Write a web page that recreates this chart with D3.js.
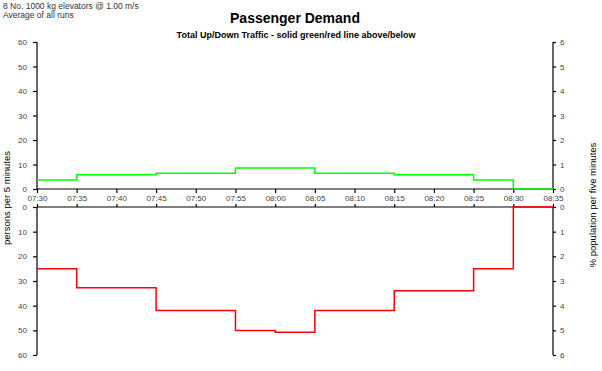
<!DOCTYPE html>
<html>
<head>
<meta charset="utf-8">
<script src="https://cdn.jsdelivr.net/npm/d3@7"></script>
<style>
  body { margin: 0; background: #fff; }
  svg { font-family: "Liberation Sans", Arial, sans-serif; }
</style>
</head>
<body>
<svg width="602" height="371"></svg>
<script>
// five-minute bins starting 07:30
const times = ["07:30","07:35","07:40","07:45","07:50","07:55","08:00","08:05","08:10","08:15","08:20","08:25","08:30","08:35"];
const upTraffic = [3.7, 5.8, 5.8, 6.4, 6.4, 8.6, 8.6, 6.4, 6.4, 5.8, 5.8, 3.7, 0];
const downTraffic = [25, 32.7, 32.7, 42, 42, 50.1, 50.8, 42, 42, 34, 34, 25, 0];
const leftTicks = [0, 10, 20, 30, 40, 50, 60];
const rightTicks = [0, 1, 2, 3, 4, 5, 6];

const svg = d3.select("svg");
const left = 37, right = 553;
const labelColor = "#444";

const x = d3.scalePoint().domain(times).range([left, right]);
const yTop = d3.scaleLinear().domain([0, 60]).range([189, 42]);
const yBot = d3.scaleLinear().domain([0, 60]).range([207, 355]);
const pTop = d3.scaleLinear().domain([0, 6]).range([189, 42]);
const pBot = d3.scaleLinear().domain([0, 6]).range([207, 355]);

// header texts
svg.append("text").attr("x", 3).attr("y", 9).attr("font-size", 8.5).attr("fill", "#333")
  .text("8 No. 1000 kg elevators @ 1.00 m/s");
svg.append("text").attr("x", 3).attr("y", 18).attr("font-size", 8.5).attr("fill", "#333")
  .text("Average of all runs");
svg.append("text").attr("x", 295).attr("y", 23).attr("text-anchor", "middle")
  .attr("font-size", 14).attr("font-weight", "bold").text("Passenger Demand");
svg.append("text").attr("x", 296).attr("y", 38).attr("text-anchor", "middle")
  .attr("font-size", 9).attr("font-weight", "bold")
  .text("Total Up/Down Traffic - solid green/red line above/below");

const styleAxis = g => {
  g.select(".domain").remove();
  g.selectAll("line").attr("stroke", "#000").attr("stroke-width", 1.2);
  g.selectAll("text").attr("fill", labelColor).attr("font-size", 8);
};

// left axes
[yTop, yBot].forEach(scale => {
  svg.append("g").attr("transform", `translate(${left},0)`)
    .call(d3.axisLeft(scale).tickValues(leftTicks).tickSize(4).tickPadding(6))
    .call(styleAxis);
  svg.append("line").attr("x1", left).attr("x2", left)
    .attr("y1", scale.range()[0]).attr("y2", scale.range()[1])
    .attr("stroke", "#000").attr("stroke-width", 1.2);
});

// right axes
[pTop, pBot].forEach(scale => {
  svg.append("g").attr("transform", `translate(${right},0)`)
    .call(d3.axisRight(scale).tickValues(rightTicks).tickFormat(d3.format("d")).tickSize(3).tickPadding(4))
    .call(styleAxis);
  svg.append("line").attr("x1", right).attr("x2", right)
    .attr("y1", scale.range()[0]).attr("y2", scale.range()[1])
    .attr("stroke", "#000").attr("stroke-width", 1.2);
});

// horizontal baselines
[189, 207].forEach(yy => {
  svg.append("line").attr("x1", left).attr("x2", right).attr("y1", yy).attr("y2", yy)
    .attr("stroke", "#000").attr("stroke-width", 1.2);
});

// x axis
const xg = svg.append("g").attr("transform", "translate(0,189)")
  .call(d3.axisBottom(x).tickSize(4).tickPadding(4))
  .call(styleAxis);
xg.selectAll("text").attr("dy", "0.55em");
svg.append("g").attr("transform", "translate(0,207)")
  .call(d3.axisTop(x).tickSize(3).tickFormat(""))
  .call(styleAxis);

// step lines
const stepPoints = vals => {
  const pts = vals.map((v, i) => [times[i], v]);
  pts.push([times[vals.length], vals[vals.length - 1]]);
  return pts;
};
const lineTop = d3.line().x(d => x(d[0])).y(d => yTop(d[1])).curve(d3.curveStepAfter);
const lineBot = d3.line().x(d => x(d[0])).y(d => yBot(d[1])).curve(d3.curveStepAfter);

svg.append("path").datum(stepPoints(upTraffic)).attr("d", lineTop)
  .attr("fill", "none").attr("stroke", "#00ff00").attr("stroke-width", 1.5);
svg.append("path").datum(stepPoints(downTraffic)).attr("d", lineBot)
  .attr("fill", "none").attr("stroke", "#ff0000").attr("stroke-width", 1.5);

// axis titles
svg.append("text").attr("transform", "translate(10,198) rotate(-90)")
  .attr("text-anchor", "middle").attr("font-size", 9.5).attr("fill", "#000")
  .text("persons per 5 minutes");
svg.append("text").attr("transform", "translate(596,205) rotate(-90)")
  .attr("text-anchor", "middle").attr("font-size", 9.5).attr("fill", "#000")
  .text("% population per five minutes");
</script>
</body>
</html>
